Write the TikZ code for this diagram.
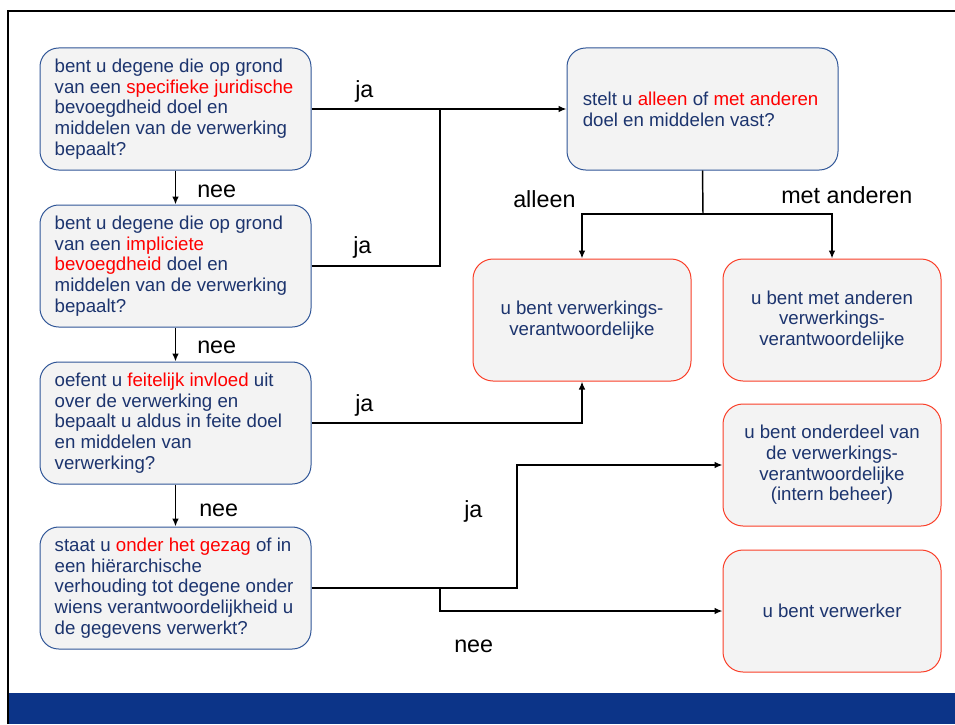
\documentclass[tikz,border=0pt]{standalone}
\usepackage{fontspec}
\setmainfont{Liberation Sans}
\usetikzlibrary{arrows.meta}
\definecolor{navy}{RGB}{28,52,110}
\definecolor{hired}{RGB}{255,0,0}
\definecolor{qborder}{RGB}{47,85,151}
\definecolor{rborder}{RGB}{250,62,40}
\definecolor{boxfill}{RGB}{243,243,243}
\definecolor{barblue}{RGB}{12,52,136}
\newcommand\hl[1]{\textcolor{hired}{#1}}
\begin{document}
\begin{tikzpicture}[x=0.75pt,y=-0.75pt,
  qbox/.style={draw=qborder, line width=0.75pt, fill=boxfill, rounded corners=14pt,
    minimum width=203.25pt, minimum height=91.5pt, inner sep=0pt},
  qtext/.style={anchor=west, inner sep=0pt, align=left, text=navy,
    font=\fontsize{14}{15.5}\selectfont},
  rbox/.style={draw=rborder, line width=0.75pt, fill=boxfill, rounded corners=15pt,
    minimum width=163.5pt, minimum height=91.5pt, inner sep=0pt, align=center,
    text=navy, font=\fontsize{14}{15.5}\selectfont},
  lbl/.style={anchor=base west, inner sep=0pt, text=black, font=\fontsize{17.5}{20}\selectfont},
  conn/.style={line width=1.1pt, draw=black},
  arr/.style={conn, -{Latex[length=6pt,width=5pt]}}]
\useasboundingbox (0,0) rectangle (955,724);
\fill[barblue] (8,693) rectangle (955,724);
\draw[line width=1.5pt] (8,724) -- (8,11) -- (955,11);

\node[qbox] (q1) at (175.5,109) {};
\node[qbox] (q2) at (175.5,266) {};
\node[qbox] (q3) at (175.5,423) {};
\node[qbox] (q4) at (175.5,588) {};
\node[qbox] (q5) at (702.5,109) {};
\node[qtext] (q1t) at ([xshift=11.2pt]q1.west) {bent u degene die op grond\\ van een \hl{specifieke juridische}\\ bevoegdheid doel en\\ middelen van de verwerking\\ bepaalt?};
\node[qtext] (q2t) at ([xshift=11.2pt]q2.west) {bent u degene die op grond\\ van een \hl{impliciete}\\ \hl{bevoegdheid} doel en\\ middelen van de verwerking\\ bepaalt?};
\node[qtext] (q3t) at ([xshift=11.2pt]q3.west) {oefent u \hl{feitelijk invloed} uit\\ over de verwerking en\\ bepaalt u aldus in feite doel\\ en middelen van\\ verwerking?};
\node[qtext] (q4t) at ([xshift=11.2pt]q4.west) {staat u \hl{onder het gezag} of in\\ een hiërarchische\\ verhouding tot degene onder\\ wiens verantwoordelijkheid u\\ de gegevens verwerkt?};
\node[qtext] (q5t) at ([xshift=12pt]q5.west) {stelt u \hl{alleen} of \hl{met anderen}\\ doel en middelen vast?};

\node[rbox] (r1) at (582,320) {u bent verwerkings-\\ verantwoordelijke};
\node[rbox] (r2) at (832,320) {u bent met anderen\\ verwerkings-\\ verantwoordelijke};
\node[rbox] (r3) at (832,465) {u bent onderdeel van\\ de verwerkings-\\ verantwoordelijke\\ (intern beheer)};
\node[rbox] (r4) at (832,611) {u bent verwerker};

\coordinate (j1) at (440,109);
\coordinate (s5) at (703,214);
\coordinate (k4) at (517,588);
\coordinate (k5) at (440,588);

\draw[arr] (q1.east) -- (q5.west);
\draw[conn] (q2.east) -| (j1);
\draw[arr] (q1.south) -- (q2.north);
\draw[arr] (q2.south) -- (q3.north);
\draw[arr] (q3.south) -- (q4.north);
\draw[conn] (q5.south) -- (s5);
\draw[arr] (s5) -| (r1.north);
\draw[arr] (s5) -| (r2.north);
\draw[arr] (q3.east) -| (r1.south);
\draw[arr] (q4.east) -- (k4) |- (r3.west);
\draw[arr] (k5) |- (r4.west);

\node[lbl] (l1) at (355,97) {ja};
\node[lbl] (l2) at (353,253) {ja};
\node[lbl] (l3) at (355,411) {ja};
\node[lbl] (l4) at (464,517) {ja};
\node[lbl] (n1) at (197,197) {nee};
\node[lbl] (n2) at (197,353) {nee};
\node[lbl] (n3) at (199,516) {nee};
\node[lbl] (n4) at (454,652) {nee};
\node[lbl] (a1) at (513,207) {alleen};
\node[lbl] (a2) at (781,203) {met anderen};
\end{tikzpicture}
\end{document}
